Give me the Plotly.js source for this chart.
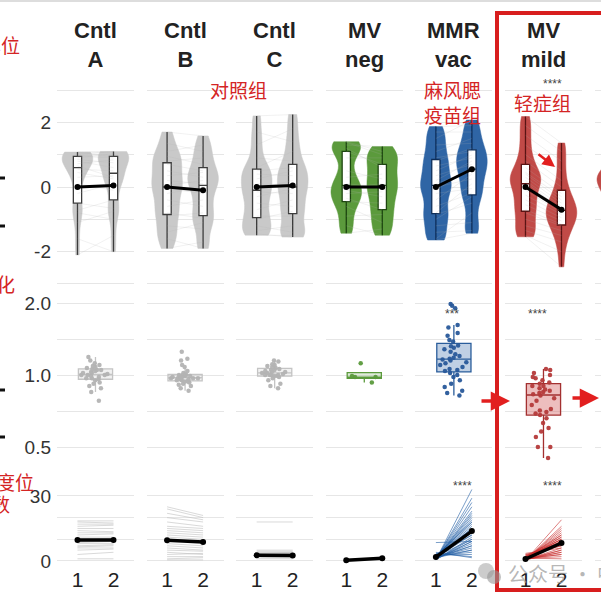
<!DOCTYPE html>
<html><head><meta charset="utf-8">
<script src="https://cdn.plot.ly/plotly-3.0.1.min.js"></script>
<style>html,body{margin:0;padding:0;background:#fff}#chart{width:601px;height:602px}</style>
</head><body><div id="chart"></div>
<script>
// ---------- data ----------
const headerTop = ['Cntl','Cntl','Cntl','MV','MMR','MV'];
const headerBottom = ['A','B','C','neg','vac','mild'];
const visitLabels = ['1','2'];

// top row: standardized antibody level, visit 1 and visit 2 (paired by index)
const violinA1 = [-2.1,-1.6,-1.1,-0.8,-0.72,-0.5,-0.2,0.1,0.3,0.45,0.55,0.65,0.72,0.8,0.85,0.9,0.95,1.0,1.05,1.08,1.08,0.98];
const violinA2 = [-1.5,-2.0,-0.75,-1.0,-0.4,-0.66,0.1,-0.1,0.35,0.25,0.5,0.3,0.84,0.6,0.75,1.03,0.9,1.1,0.98,1.07,1.1,0.95];
const violinB1 = [-1.9,-1.6,-1.4,-1.2,-0.9,-0.8,-0.6,-0.4,-0.2,-0.05,0.05,0.2,0.35,0.5,0.7,0.8,0.95,1.1,1.35,1.7];
const violinB2 = [-1.7,-1.9,-1.1,-1.3,-0.8,-0.97,-0.4,-0.6,0.0,-0.2,0.2,0.1,0.45,0.3,0.5,0.9,0.7,1.3,1.1,1.58];
const violinC1 = [-1.49,-1.45,-1.35,-1.2,-1.0,-0.9,-0.7,-0.5,-0.3,-0.15,-0.05,0.1,0.25,0.4,0.5,0.6,0.9,1.3,1.7,2.2];
const violinC2 = [-1.5,-1.55,-1.2,-1.4,-0.75,-0.9,-0.4,-0.6,-0.05,-0.2,0.2,0.05,0.5,0.35,0.6,1.1,0.8,1.8,1.4,2.24];
const violinNeg1 = [-1.43,-1.2,-0.9,-0.6,-0.45,-0.35,-0.2,-0.1,0.0,0.1,0.3,0.5,0.9,1.1,1.3,1.4,1.38,1.2];
const violinNeg2 = [-1.3,-1.49,-0.85,-1.1,-0.5,-0.7,-0.15,-0.3,0.1,0.0,0.4,0.25,0.9,0.7,1.25,1.1,1.0,0.6];
const violinMMR1 = [-1.64,-1.6,-1.4,-1.2,-1.0,-0.85,-0.8,-0.6,-0.4,-0.2,-0.1,0.0,0.1,0.2,0.35,0.5,0.65,0.8,0.9,1.1,1.3,1.5,1.7,1.87];
const violinMMR2 = [-1.43,-0.8,-1.35,-1.1,-0.3,-0.5,0.1,-0.19,0.4,-0.05,0.6,0.25,0.5,0.8,0.7,0.99,0.9,1.2,1.1,1.5,1.35,2.07,1.7,1.9];
const violinMild1 = [-1.54,-1.5,-1.35,-1.2,-1.0,-0.8,-0.7,-0.55,-0.4,-0.25,-0.1,0.05,0.15,0.2,0.3,0.4,0.45,0.6,0.8,1.0,1.3,1.6,1.9,2.18];
const violinMild2 = [-2.47,-2.0,-1.7,-1.5,-1.35,-1.2,-1.15,-1.05,-0.95,-0.85,-0.8,-0.75,-0.7,-0.6,-0.5,-0.4,-0.3,-0.2,0.0,0.2,0.5,0.8,1.1,1.36];
const violinNext1 = [-1.5,-1.0,-0.5,-0.3,-0.2,0.0,0.1,0.2,0.3,0.35,0.4,0.5,0.8,1.2];
const meanTop = [[0,0.05],[0,-0.1],[0,0.05],[0,0],[0,0.55],[0,-0.7]];

// middle row: fold change (visit 2 / visit 1)
const foldA = [1.0,1.02,1.05,1.08,1.1,0.98,0.97,1.0,1.03,1.06,1.09,0.96,0.99,1.01,1.04,1.07,1.12,1.19,1.15,0.95,0.93,0.9,0.88,0.85,0.78,1.0,1.02,0.97,1.05,0.92];
const foldB = [0.97,0.98,0.99,1.0,0.96,0.95,0.97,1.01,1.02,0.98,0.94,0.93,0.92,0.99,1.0,0.96,0.97,1.04,1.08,1.1,1.17,1.25,1.15,0.86,0.88,0.9,0.91,0.95,0.98,1.0,0.97,0.94];
const foldC = [1.0,1.02,1.05,1.08,1.1,1.11,0.99,1.0,1.03,1.06,1.04,1.0,0.98,0.99,1.01,1.07,1.09,1.15,1.14,0.95,0.92,0.9,0.88,1.02,1.05,0.97,1.0,1.03];
const foldNeg = [1.12,0.99,0.98,0.98,0.93];
const foldMMR = [1.98,1.95,1.9,1.62,1.58,1.5,1.46,1.4,1.38,1.33,1.32,1.3,1.28,1.25,1.22,1.2,1.18,1.17,1.16,1.15,1.13,1.12,1.1,1.08,1.06,1.05,1.04,1.02,1.0,0.98,0.95,0.92,0.89,0.86,0.84,0.82];
const foldMild = [1.06,1.05,1.02,1.0,0.98,0.97,0.95,0.93,0.92,0.9,0.9,0.88,0.87,0.86,0.85,0.84,0.83,0.82,0.8,0.78,0.75,0.72,0.71,0.7,0.69,0.68,0.66,0.63,0.6,0.58,0.55,0.5,0.5,0.45];

// bottom row: titer at visit 1 and visit 2 (paired by index)
const titerA1 = [1,3,5,6,7,8,8.5,9,9.5,10,11,12,13,14,15,16,17,18,18.5,6.5];
const titerA2 = [1,4,5.5,6,7.5,8,9,9,10,10.5,11,12.5,13,13.5,15,16.5,17,17.5,18.5,7];
const titerB1 = [0.5,1,2,3,4,5,6,7,8,9,10,11,12,13,14,15,16,18,20,22,24,25];
const titerB2 = [0.5,1.5,2,3.5,3,4.5,5,6,7,9,9,10,11,12,13,14,15,16,18,19,20,21];
const titerC1 = [1,1.5,2,2,2.5,2.5,3,3,3,3.5,3.5,4,4.5,5,18];
const titerC2 = [1,1.5,2,2.5,2.5,3,3,3,3.5,3.5,4,4,4.5,5,18];
const titerNeg1 = [0.2,0.3,0.4];
const titerNeg2 = [1.0,1.3,1.6];
const titerMMR1 = [0.5,0.8,1,1,1.2,1.5,1.5,1.8,2,2,2.2,2.5,2.5,3,3,0.6,0.9,1.1,1.3,1.6,1.9,2.1,2.4,2.8,3.5,4,1,1.4,1.7,2,0.7,1.2,1.5,8.5,1.8,2.3];
const titerMMR2 = [33,29,27,25,23,21,20,19,18,17,16,15,14,13,12,11,10,9,8,7,6,5,4,3,2,1.5,22,15,12,10,9,7,5,9,14,18];
const titerMild1 = [0.3,0.5,0.5,0.7,0.8,1,1,1.2,1.5,1.5,2,2,2.5,3,3.5,0.4,0.6,0.9,1.1,1.3,1.6,1.8,2.2,2.8,0.5,0.8,1.0,1.2,1.5,2.0];
const titerMild2 = [19,16,15,14,13,12,11,10,10,9,9,8,8,7,6,5,4,3,2,1,12,11,9,7,6,5,4,3,8,10];
const meanTiter = [[9.7,9.7],[9.6,8.8],[2.6,2.5],[0.3,1.3],[1.8,13.8],[0.9,8.3]];

// ---------- assembly ----------
const violins = [[violinA1,violinA2],[violinB1,violinB2],[violinC1,violinC2],[violinNeg1,violinNeg2],[violinMMR1,violinMMR2],[violinMild1,violinMild2]];
const folds = [foldA,foldB,foldC,foldNeg,foldMMR,foldMild];
const titers = [[titerA1,titerA2],[titerB1,titerB2],[titerC1,titerC2],[titerNeg1,titerNeg2],[titerMMR1,titerMMR2],[titerMild1,titerMild2]];

const W=601,H=602, P0=57, STEP=89.6, PW=77, UNIT=36, XR0=0.431;
const rowPx = [[88.4,285.6],[290,465],[474.3,565.3]];
const rowRange = [[-3.05,3.05],[-0.3763,0.3554],[-2,40]];
const rowTicks = [
  {v:[-3,-2,-1,0,1,2,3], t:['','-2','','0','','2','']},
  {v:[0.5,0.7071,1,1.4142,2], t:['0.5','','1.0','','2.0']},
  {v:[0,10,20,30], t:['0','','','30']}
];
const fillC = ['#c9c9c9','#c9c9c9','#c9c9c9','#5b9a3c','#2f65a5','#c14a47'];
const darkC = ['#3c3c3c','#3c3c3c','#3c3c3c','#1d4510','#0d2d58','#5a1313'];
const ptC   = ['#b3b3b3','#b3b3b3','#b3b3b3','#5b9a3c','#28599a','#b53a3a'];
const boxFill = ['rgba(215,215,215,0.35)','rgba(215,215,215,0.35)','rgba(215,215,215,0.35)','rgba(91,154,60,0.2)','rgba(47,101,165,0.3)','rgba(215,110,110,0.45)'];
const boxLine = ['#c4c4c4','#c4c4c4','#c4c4c4','#5b9a3c','#2a5d9b','#a33030'];
const lineC = ['rgba(185,185,185,0.55)','rgba(185,185,185,0.55)','rgba(185,185,185,0.55)','rgba(91,154,60,0.5)','rgba(35,95,165,0.6)','rgba(200,45,45,0.6)'];

const a = k => k===1 ? '' : String(k);
const layout = {width:W,height:H,margin:{l:0,r:0,t:0,b:0},paper_bgcolor:'#fff',plot_bgcolor:'rgba(0,0,0,0)',
  showlegend:false,font:{family:'Liberation Sans, Arial, sans-serif',color:'#222'},annotations:[],shapes:[],violinmode:'overlay',boxmode:'overlay'};
const data = [];

for (let r=0;r<3;r++){
  for (let c=0;c<7;c++){
    const k=r*7+c+1;
    const s=P0+STEP*c, e=Math.min(s+PW,W);
    layout['xaxis'+a(k)] = {domain:[s/W,e/W],anchor:'y'+a(k),type:'linear',range:[XR0,XR0+(e-s)/UNIT],
      showgrid:false,zeroline:false,showline:false,ticks:'',showticklabels:(r===2&&c<6),
      tickvals:[1,2],ticktext:visitLabels,tickfont:{size:21,color:'#222'},fixedrange:true};
    layout['yaxis'+a(k)] = {domain:[1-rowPx[r][1]/H,1-rowPx[r][0]/H],anchor:'x'+a(k),type:(r===1?'log':'linear'),
      range:rowRange[r],showgrid:true,gridcolor:'#e6e6e6',gridwidth:1,zeroline:false,showline:false,ticks:'',
      showticklabels:(c===0),tickvals:rowTicks[r].v,ticktext:rowTicks[r].t,tickfont:{size:19,color:'#333'},ticklabelstandoff:5,fixedrange:true};
    data.push({type:'scatter',x:[],y:[],xaxis:'x'+a(k),yaxis:'y'+a(k),hoverinfo:'skip'});
  }
}

for (let c=0;c<6;c++){
  const kT=c+1, kM=7+c+1, kB=14+c+1;
  const [v1,v2]=violins[c];
  [v1,v2].forEach((v,i)=>{
    data.push({type:'violin',x0:i+1,y:v,xaxis:'x'+a(kT),yaxis:'y'+a(kT),width:0.85,scalemode:'width',spanmode:'hard',bandwidth:0.28,
      points:false,fillcolor:fillC[c],opacity:1,line:{color:fillC[c],width:0.5},
      box:{visible:true,width:0.27,fillcolor:'#ffffff',line:{color:darkC[c],width:1.3}},meanline:{visible:false},hoverinfo:'skip'});
  });
  const px=[],py=[];
  for (let i=0;i<Math.min(v1.length,v2.length);i++){px.push(1,2,null);py.push(v1[i],v2[i],null);}
  data.push({type:'scatter',mode:'lines',x:px,y:py,xaxis:'x'+a(kT),yaxis:'y'+a(kT),line:{color:'rgba(175,175,175,0.3)',width:0.6},hoverinfo:'skip'});
  data.push({type:'scatter',mode:'lines+markers',x:[1,2],y:meanTop[c],xaxis:'x'+a(kT),yaxis:'y'+a(kT),line:{color:'#000',width:3},marker:{color:'#000',size:6},hoverinfo:'skip'});
  data.push({type:'box',x0:1.5,y:folds[c],xaxis:'x'+a(kM),yaxis:'y'+a(kM),width:0.95,boxpoints:'all',jitter:0.85,pointpos:0,
    fillcolor:boxFill[c],line:{color:boxLine[c],width:1.3},whiskerwidth:0,marker:{color:ptC[c],size:4.5,opacity:0.95},hoverinfo:'skip'});
  const [t1,t2]=titers[c];
  const lx=[],ly=[];
  for (let i=0;i<t1.length;i++){lx.push(1,2,null);ly.push(t1[i],t2[i],null);}
  data.push({type:'scatter',mode:'lines',x:lx,y:ly,xaxis:'x'+a(kB),yaxis:'y'+a(kB),line:{color:lineC[c],width:1},hoverinfo:'skip'});
  data.push({type:'scatter',mode:'lines+markers',x:[1,2],y:meanTiter[c],xaxis:'x'+a(kB),yaxis:'y'+a(kB),line:{color:'#000',width:3.5},marker:{color:'#000',size:6},hoverinfo:'skip'});
  layout.annotations.push({xref:'paper',yref:'paper',x:(P0+STEP*c+PW/2)/W,y:1-45/H,xanchor:'center',yanchor:'middle',showarrow:false,
    text:'<b>'+headerTop[c]+'</b><br><b>'+headerBottom[c]+'</b>',font:{size:22,color:'#222',family:'Liberation Sans, Arial, sans-serif'}});
}
data.push({type:'violin',x0:1,y:violinNext1,xaxis:'x7',yaxis:'y7',width:1.0,scalemode:'width',spanmode:'hard',bandwidth:0.28,points:false,
  fillcolor:'#c14a47',line:{color:'#c14a47',width:0.5},box:{visible:false},hoverinfo:'skip'});

layout.shapes.push({type:'line',xref:'paper',yref:'y8',x0:57/W,x1:1,y0:0,y1:0,line:{color:'#8c8c8c',width:1.6},layer:'below'});
layout.shapes.push({type:'line',xref:'paper',yref:'paper',x0:0,x1:1,y0:1-1/H,y1:1-1/H,line:{color:'#dddddd',width:2}});
[178,226,390,437].forEach(y=>layout.shapes.push({type:'line',xref:'paper',yref:'paper',x0:0,x1:5/W,y0:1-y/H,y1:1-y/H,line:{color:'#111',width:3}}));
layout.shapes.push({type:'rect',xref:'paper',yref:'paper',x0:497/W,x1:1.05,y0:1-590/H,y1:1-13/H,line:{color:'#d81e1e',width:4},fillcolor:'rgba(0,0,0,0)'});
layout.shapes.push({type:'circle',xref:'paper',yref:'paper',x0:478/W,x1:494/W,y0:1-579/H,y1:1-563/H,fillcolor:'rgba(170,170,170,0.6)',line:{width:0}});
layout.shapes.push({type:'circle',xref:'paper',yref:'paper',x0:487/W,x1:501/W,y0:1-584/H,y1:1-570/H,fillcolor:'rgba(150,150,150,0.6)',line:{width:0}});

const P = (x,y)=>({x:x/W,y:1-y/H});
const stars = [[552,84,'****'],[452,314,'***'],[537,314,'****'],[462,486,'****'],[552,486,'****']];
stars.forEach(s=>layout.annotations.push(Object.assign(P(s[0],s[1]),{xref:'paper',yref:'paper',showarrow:false,xanchor:'center',yanchor:'middle',text:s[2],font:{size:12,color:'#444'}})));

const red='#d42424', cjk='Noto Sans CJK SC, sans-serif';
const redTexts = [
  [238,90,'对照组','center'],[452,102,'麻风腮<br>疫苗组','center'],[542,102,'轻症组','center'],
  [22,45,'单位','right'],[17,283,'变化','right'],[36,481,'滴度位','right'],[12,503,'倍数','right']
];
redTexts.forEach(t=>layout.annotations.push(Object.assign(P(t[0],t[1]),{xref:'paper',yref:'paper',showarrow:false,xanchor:t[3],yanchor:'middle',text:t[2],font:{size:19,color:red,family:cjk}})));
layout.annotations.push(Object.assign(P(506,573),{xref:'paper',yref:'paper',showarrow:false,xanchor:'left',yanchor:'middle',text:'公众号 · 中',font:{size:20,color:'rgba(160,160,160,0.75)',family:cjk}}));
const arrows = [[555,167,-18,-14,2.5,1.0],[510,401,-30,0,3.5,1.1],[599,398,-28,0,3.5,1.1]];
arrows.forEach(ar=>layout.annotations.push(Object.assign(P(ar[0],ar[1]),{xref:'paper',yref:'paper',text:'',showarrow:true,ax:ar[2],ay:ar[3],arrowcolor:'#e21f1f',arrowwidth:ar[4],arrowhead:2,arrowsize:ar[5]})));

Plotly.newPlot('chart',data,layout,{staticPlot:true,displayModeBar:false});
</script></body></html>
